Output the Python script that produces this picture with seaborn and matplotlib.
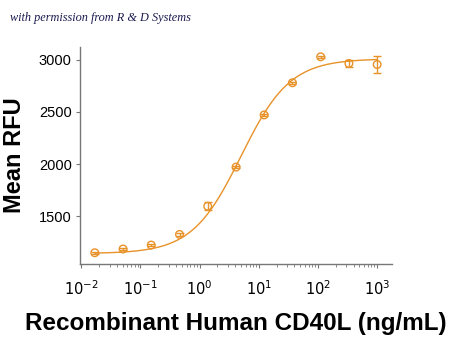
import numpy as np
import pandas as pd
import matplotlib
matplotlib.use("Agg")
import matplotlib.pyplot as plt
import seaborn as sns
from matplotlib.ticker import LogLocator, NullFormatter, FixedLocator

# Data
conc = [0.0169, 0.0508, 0.152, 0.457, 1.37, 4.12, 12.3, 37.0, 111.0, 333.0, 1000.0]
rfu = [1148, 1184, 1222, 1324, 1595, 1970, 2471, 2780, 3029, 2965, 2955]
err = [8, 8, 10, 14, 38, 12, 12, 10, 10, 38, 80]
# 4-parameter logistic fit parameters (bottom, top, EC50, Hill)
fit_bottom, fit_top, fit_ec50, fit_hill = 1140, 3010, 5.0, 1.05
yticks = [1500, 2000, 2500, 3000]
xtick_exp = [-2, -1, 0, 1, 2, 3]

color = "#E8922A"

sns.set_theme(style="white")
plt.rcParams['font.family'] = ['Liberation Sans', 'DejaVu Sans']

fig = plt.figure(figsize=(4.5, 3.37), dpi=100)
ax = fig.add_axes([0.178, 0.2166, 0.693, 0.6445])

xs = np.logspace(np.log10(conc[0]), np.log10(conc[-1]), 300)
ys = fit_bottom + (fit_top - fit_bottom) / (1 + (fit_ec50 / xs) ** fit_hill)
curve = pd.DataFrame({"x": xs, "y": ys})
pts = pd.DataFrame({"x": conc, "y": rfu})

sns.lineplot(data=curve, x="x", y="y", ax=ax, color=color, lw=1.0)
ax.errorbar(conc, rfu, yerr=err, fmt="none", ecolor=color, elinewidth=1.0, capsize=3, capthick=1.0)
sns.scatterplot(data=pts, x="x", y="y", ax=ax, s=30, facecolor="none", edgecolor=color, linewidth=1.0, marker="o", zorder=5)

ax.set_xscale("log")
ax.set_xlim(10 ** -2.02, 10 ** 3.25)
ax.set_ylim(1040, 3125)
ax.xaxis.set_major_locator(FixedLocator([10.0 ** e for e in xtick_exp]))
ax.set_xticklabels([f"$10^{{{e}}}$" for e in xtick_exp])
ax.xaxis.set_minor_locator(LogLocator(base=10, subs=np.arange(2, 10), numticks=20))
ax.xaxis.set_minor_formatter(NullFormatter())
ax.set_yticks(yticks)
ax.set_yticklabels([str(v) for v in yticks])

for s in ["top", "right"]:
    ax.spines[s].set_visible(False)
for s in ["left", "bottom"]:
    ax.spines[s].set_color("#777777")
    ax.spines[s].set_linewidth(1.0)

ax.tick_params(axis="both", which="major", direction="out", length=3, width=0.8, color="#777777",
               labelsize=10.5, labelcolor="#000000", bottom=True, left=True, pad=3)
ax.tick_params(axis="x", which="minor", direction="out", length=2, width=0.6, color="#777777", bottom=True)
ax.tick_params(axis="x", which="major", pad=8)

ax.set_xlabel("Recombinant Human CD40L (ng/mL)", fontsize=17.5, fontweight="bold", labelpad=10, color="black")
ax.set_ylabel("Mean RFU", fontsize=17, fontweight="bold", labelpad=9, color="black")

fig.text(0.022, 0.948, "with permission from R & D Systems", fontsize=8.8, style="italic",
         family=['Liberation Serif', 'DejaVu Serif'], color="#1a1a50", va="center")

fig.savefig("out.png", dpi=100)
